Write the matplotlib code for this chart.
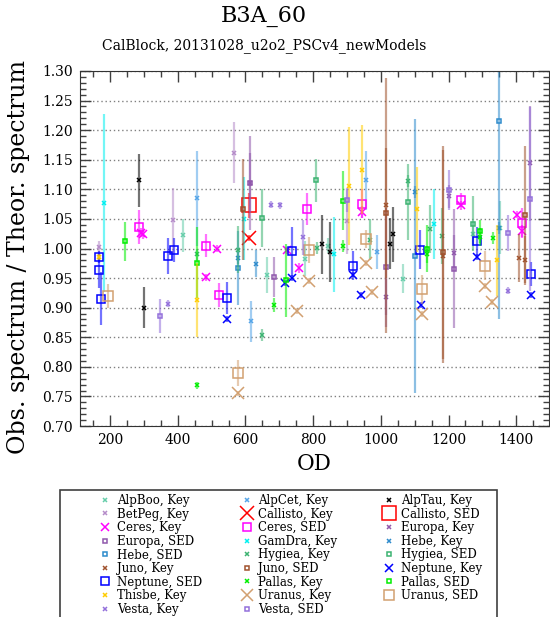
import matplotlib
matplotlib.use("Agg")
import matplotlib.pyplot as plt
from matplotlib.lines import Line2D
from matplotlib.patches import Rectangle
from matplotlib.ticker import MultipleLocator

plt.rcParams['font.family'] = 'DejaVu Serif'

# (OD, obs/theor ratio, error) for each source / model
alpboo_key = [(414, 1.022, 0.028), (663, 0.955, 0.03), (776, 0.983, 0.03), (845, 1.005, 0.012),
              (1067, 0.949, 0.025), (1273, 1.025, 0.02), (1352, 1.035, 0.045)]
alpcet_key = [(458, 1.085, 0.08), (616, 0.877, 0.035), (956, 1.115, 0.05), (990, 0.994, 0.029)]
alptau_key = [(286, 1.115, 0.045), (301, 0.900, 0.035), (825, 1.007, 0.05), (850, 0.994, 0.051),
              (1027, 1.008, 0.043), (1035, 1.024, 0.046)]
betpeg_key = [(168, 1.002, 0.01), (387, 1.048, 0.055), (566, 1.162, 0.052), (899, 1.046, 0.055)]
callisto_key = [(609, 1.018, 0.005)]
callisto_sed = [(609, 1.073, 0.021)]
ceres_key = [(290, 1.027, 0.008), (296, 1.024, 0.008), (483, 0.951, 0.006), (515, 1.000, 0.006),
             (722, 0.997, 0.006), (757, 0.967, 0.008), (945, 1.061, 0.01), (1236, 1.073, 0.008),
             (1402, 1.057, 0.006), (1418, 1.029, 0.01)]
ceres_sed = [(285, 1.036, 0.029), (483, 1.005, 0.019), (523, 0.921, 0.02), (781, 1.066, 0.027),
             (945, 1.076, 0.025), (1236, 1.082, 0.012), (1418, 1.043, 0.025)]
europa_key = [(614, 1.111, 0.05), (1014, 0.918, 0.03), (1201, 1.088, 0.02), (1215, 0.992, 0.03),
              (1441, 1.144, 0.097)]
europa_sed = [(614, 1.111, 0.079), (685, 0.952, 0.034), (1014, 0.968, 0.1), (1215, 0.966, 0.1)]
gamdra_key = [(182, 1.077, 0.15), (596, 1.050, 0.07), (862, 0.990, 0.064), (1158, 1.042, 0.059)]
hebe_key = [(578, 0.984, 0.01), (631, 0.974, 0.023), (1101, 1.095, 0.01), (1350, 1.035, 0.01)]
hebe_sed = [(578, 0.967, 0.062), (1101, 0.987, 0.232), (1350, 1.216, 0.335)]
hygiea_key = [(458, 0.990, 0.01), (578, 0.998, 0.04), (648, 0.854, 0.01), (811, 1.001, 0.01),
              (968, 1.015, 0.035), (1081, 1.114, 0.01), (1145, 1.033, 0.04), (1180, 1.021, 0.047)]
hygiea_sed = [(648, 1.051, 0.049), (809, 1.115, 0.037), (1081, 1.079, 0.064), (1273, 1.042, 0.046)]
juno_key = [(1014, 1.073, 0.215), (1183, 0.987, 0.18), (1409, 0.984, 0.04), (1426, 0.981, 0.04)]
juno_sed = [(592, 1.066, 0.085), (1014, 1.060, 0.11), (1183, 0.994, 0.18), (1426, 1.056, 0.117)]
neptune_key = [(545, 0.881, 0.005), (716, 0.942, 0.005), (738, 0.950, 0.005), (917, 0.956, 0.005),
               (941, 0.921, 0.005), (1118, 0.905, 0.005), (1285, 0.985, 0.005), (1444, 0.921, 0.005)]
neptune_sed = [(168, 0.985, 0.01), (168, 0.963, 0.03), (172, 0.915, 0.045), (372, 0.987, 0.03),
               (389, 0.997, 0.02), (545, 0.917, 0.027), (738, 0.995, 0.041), (917, 0.971, 0.025),
               (1116, 0.998, 0.033), (1285, 1.012, 0.025), (1444, 0.957, 0.021)]
pallas_key = [(456, 0.769, 0.006), (685, 0.905, 0.012), (887, 1.004, 0.01), (1136, 0.990, 0.015),
              (1294, 1.020, 0.015), (1331, 1.018, 0.01)]
pallas_sed = [(244, 1.012, 0.033), (458, 0.976, 0.06), (721, 0.946, 0.062), (887, 1.081, 0.05),
              (1136, 1.000, 0.04), (1294, 1.029, 0.02)]
thisbe_key = [(168, 0.985, 0.005), (456, 0.913, 0.062), (906, 1.106, 0.1), (945, 1.133, 0.075),
              (1108, 1.066, 0.072), (1344, 0.980, 0.06)]
uranus_key = [(578, 0.755, 0.005), (752, 0.894, 0.005), (789, 0.945, 0.005), (956, 0.976, 0.005),
              (973, 0.926, 0.005), (1121, 0.889, 0.005), (1308, 0.936, 0.005), (1330, 0.909, 0.005)]
uranus_sed = [(194, 0.920, 0.02), (578, 0.790, 0.022), (789, 0.998, 0.022), (956, 1.016, 0.015),
              (1121, 0.931, 0.025), (1308, 0.971, 0.024)]
vesta_key = [(370, 0.907, 0.006), (676, 1.074, 0.006), (702, 1.073, 0.006), (769, 1.019, 0.03),
             (1377, 0.929, 0.006)]
vesta_sed = [(348, 0.886, 0.028), (899, 1.082, 0.02), (1201, 1.099, 0.034), (1377, 1.026, 0.03),
             (1441, 1.084, 0.155)]

labels = ['AlpBoo, Key', 'AlpCet, Key', 'AlpTau, Key', 'BetPeg, Key', 'Callisto, Key', 'Callisto, SED',
          'Ceres, Key', 'Ceres, SED', 'Europa, Key', 'Europa, SED', 'GamDra, Key', 'Hebe, Key',
          'Hebe, SED', 'Hygiea, Key', 'Hygiea, SED', 'Juno, Key', 'Juno, SED', 'Neptune, Key',
          'Neptune, SED', 'Pallas, Key', 'Pallas, SED', 'Thisbe, Key', 'Uranus, Key', 'Uranus, SED',
          'Vesta, Key', 'Vesta, SED']
series = [alpboo_key, alpcet_key, alptau_key, betpeg_key, callisto_key, callisto_sed,
          ceres_key, ceres_sed, europa_key, europa_sed, gamdra_key, hebe_key,
          hebe_sed, hygiea_key, hygiea_sed, juno_key, juno_sed, neptune_key,
          neptune_sed, pallas_key, pallas_sed, thisbe_key, uranus_key, uranus_sed,
          vesta_key, vesta_sed]

# styles: colour per source, marker size per source
colors = {'AlpBoo': '#66cdaa', 'AlpCet': '#55a5e8', 'AlpTau': 'black', 'BetPeg': '#b58cc9',
          'Callisto': 'red', 'Ceres': 'magenta', 'Europa': '#9058ac', 'GamDra': '#00f0f0',
          'Hebe': '#2e8bcc', 'Hygiea': '#3cb371', 'Juno': '#a0522d', 'Neptune': 'blue',
          'Pallas': '#00ee00', 'Thisbe': '#ffcc00', 'Uranus': '#d2a070', 'Vesta': '#9370db'}
sizes = {'Callisto': (10, 9.5), 'Uranus': (8, 7.7), 'Neptune': (5.5, 6.2), 'Ceres': (5.5, 5.3)}


def style(label):
    name, model = label.split(', ')
    key_size, sed_size = sizes.get(name, (3.2, 3.5))
    if model == 'Key':
        return colors[name], 'x', key_size
    return colors[name], 's', sed_size


fig = plt.figure(figsize=(5.5, 6.17), dpi=100)
ax = fig.add_axes([80 / 550, 1 - 426 / 617, 469 / 550, 355 / 617])

handles = []
for label, data in zip(labels, series):
    color, marker, ms = style(label)
    od = [d[0] for d in data]
    ratio = [d[1] for d in data]
    err = [d[2] for d in data]
    ax.errorbar(od, ratio, yerr=err, fmt='none', ecolor=color, elinewidth=1.6, alpha=0.55)
    ax.plot(od, ratio, ls='none', marker=marker, ms=ms, mfc='none', mec=color, mew=1.1)
    handles.append(Line2D([], [], ls='none', marker=marker, ms=ms, mfc='none', mec=color, mew=1.1))

ax.set_xlim(111, 1497)
ax.set_ylim(0.70, 1.30)
ax.xaxis.set_major_locator(MultipleLocator(200))
ax.xaxis.set_minor_locator(MultipleLocator(50))
ax.yaxis.set_major_locator(MultipleLocator(0.05))
ax.yaxis.set_minor_locator(MultipleLocator(0.01))
ax.tick_params(which='both', direction='in', top=True, right=True, colors='0.25', labelcolor='black',
               labelsize=10)
ax.tick_params(which='major', length=8, width=1, pad=5)
ax.tick_params(which='minor', length=4, width=1)
ax.yaxis.grid(True, which='major', ls=(0, (1, 2)), color='gray', lw=1)
ax.set_axisbelow(True)
for sp in ax.spines.values():
    sp.set_color('0.2')

ax.set_xlabel('OD', fontsize=15.5)
ax.xaxis.set_label_coords(0.5, -0.075)
fig.text(19 / 550, 1 - 257 / 617, 'Obs. spectrum / Theor. spectrum', rotation=90,
         ha='center', va='center', fontsize=17)

fig.text(264 / 550, 1 - 16 / 617, 'B3A_60', ha='center', va='center', fontsize=16)
fig.text(264 / 550, 1 - 46 / 617, 'CalBlock, 20131028_u2o2_PSCv4_newModels', ha='center',
         va='center', fontsize=10)

# legend: row-major layout, one legend per column
col_x = [99, 240.7, 383.3]
for c in range(3):
    fig.legend(handles[c::3], labels[c::3], loc='upper left',
               bbox_to_anchor=(col_x[c] / 550, 1 - 494 / 617), frameon=False, fontsize=8.5,
               handlelength=1.0, handletextpad=0.5, labelspacing=0.05, borderpad=0,
               borderaxespad=0)
fig.patches.append(Rectangle((60 / 550, -0.1), 437 / 550, 0.1 + (617 - 490) / 617,
                             transform=fig.transFigure, fill=False, edgecolor='0.25', lw=1.2))

fig.savefig('out.png', dpi=100)
